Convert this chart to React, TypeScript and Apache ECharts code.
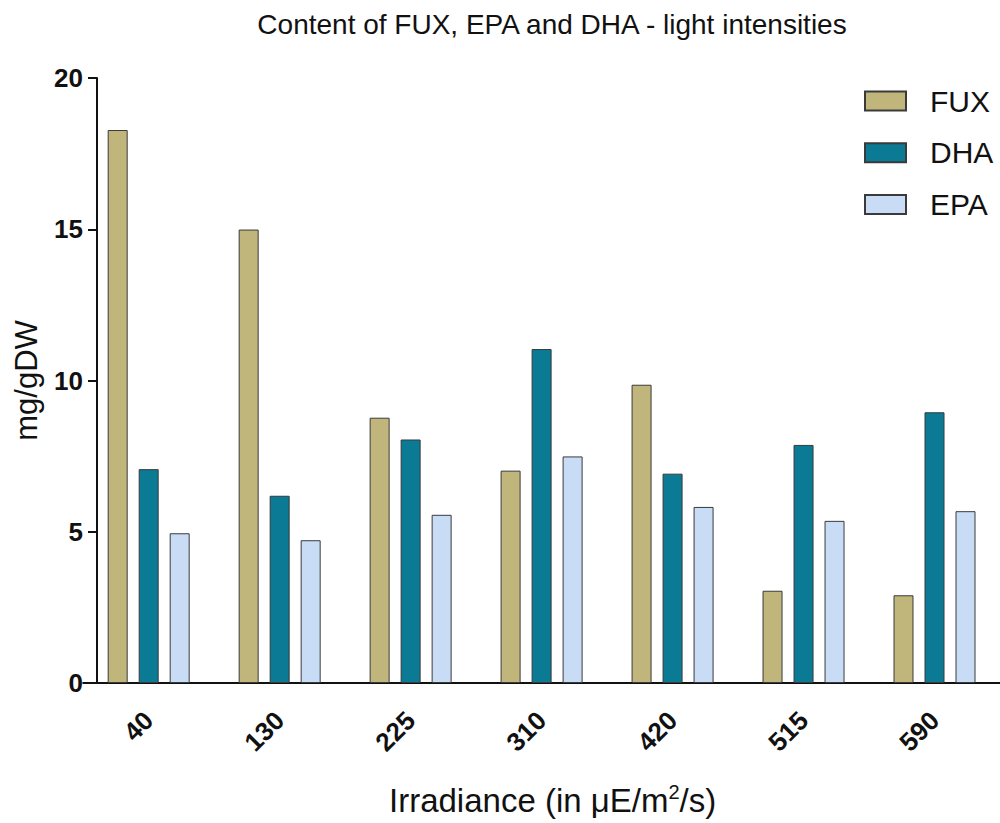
import React, { useEffect, useRef } from "react";
import * as echarts from "echarts";

const categories = ["40", "130", "225", "310", "420", "515", "590"];
const fuxValues = [18.28, 14.99, 8.77, 7.02, 9.86, 3.05, 2.9];
const dhaValues = [7.07, 6.19, 8.05, 11.04, 6.92, 7.87, 8.95];
const epaValues = [4.95, 4.72, 5.56, 7.49, 5.82, 5.36, 5.68];
const yTicks = [0, 5, 10, 15, 20];

const SANS = "'Liberation Sans', Arial, sans-serif";

export default function App() {
  const ref = useRef<HTMLDivElement>(null);
  useEffect(() => {
    if (!ref.current) return;
    const chart = echarts.init(ref.current, null, { renderer: "svg" });
    const border = { borderColor: "#3a3a3a", borderWidth: 1 };
    const mk = (name: string, data: number[], color: string) => ({
      name,
      type: "bar",
      data,
      barWidth: 20,
      barGap: "55%",
      itemStyle: { color, ...border },
    });
    chart.setOption({
      animation: false,
      backgroundColor: "#ffffff",
      title: {
        text: "Content of FUX, EPA and DHA - light intensities",
        left: 547,
        top: 5,
        textAlign: "center",
        textStyle: { fontFamily: SANS, fontSize: 28, fontWeight: "normal", color: "#111" },
      },
      legend: {
        orient: "vertical",
        left: 864,
        top: 86,
        padding: 0,
        itemWidth: 41,
        itemHeight: 19,
        itemGap: 21.8,
        icon: "rect",
        data: ["FUX", "DHA", "EPA"],
        textStyle: { fontFamily: SANS, fontSize: 30, lineHeight: 30, color: "#111", padding: [0, 0, 0, 19] },
      },
      grid: { left: 83.2, right: -18.9, top: 78, bottom: 140 },
      xAxis: {
        type: "category",
        data: categories,
        axisLine: { lineStyle: { color: "#111", width: 2 } },
        axisTick: { alignWithLabel: true, length: 10, lineStyle: { color: "#111", width: 2 } },
        axisLabel: {
          interval: 0,
          rotate: 45,
          margin: 33,
          fontFamily: SANS,
          fontWeight: "bold",
          fontSize: 26,
          color: "#111",
        },
        name: "{n|Irradiance (in μE/m}{s|2}{n|/s)}",
        nameLocation: "middle",
        nameGap: 99,
        nameTextStyle: {
          padding: [0, 0, 0, 22],
          rich: {
            n: { fontFamily: SANS, fontSize: 33, color: "#111", lineHeight: 36 },
            s: { fontFamily: SANS, fontSize: 20, color: "#111", lineHeight: 36, verticalAlign: "top", padding: [0, 0, 14, 0] },
          },
        },
      },
      yAxis: {
        type: "value",
        min: yTicks[0],
        max: yTicks[yTicks.length - 1],
        interval: 5,
        offset: -13.8,
        splitLine: { show: false },
        axisLine: { show: true, lineStyle: { color: "#111", width: 2 } },
        axisTick: { show: true, length: 9, lineStyle: { color: "#111", width: 2 } },
        axisLabel: { margin: 14, fontFamily: SANS, fontWeight: "bold", fontSize: 26, color: "#111" },
        name: "mg/gDW",
        nameLocation: "middle",
        nameGap: 55,
        nameTextStyle: { fontFamily: SANS, fontSize: 31, color: "#111" },
      },
      series: [
        mk("FUX", fuxValues, "#c0b67b"),
        mk("DHA", dhaValues, "#0a7a95"),
        mk("EPA", epaValues, "#c8dcf5"),
      ],
    });
    return () => chart.dispose();
  }, []);
  return (
    <div
      ref={ref}
      style={{ position: "absolute", left: 0, top: 0, width: 1000, height: 823 }}
    />
  );
}
